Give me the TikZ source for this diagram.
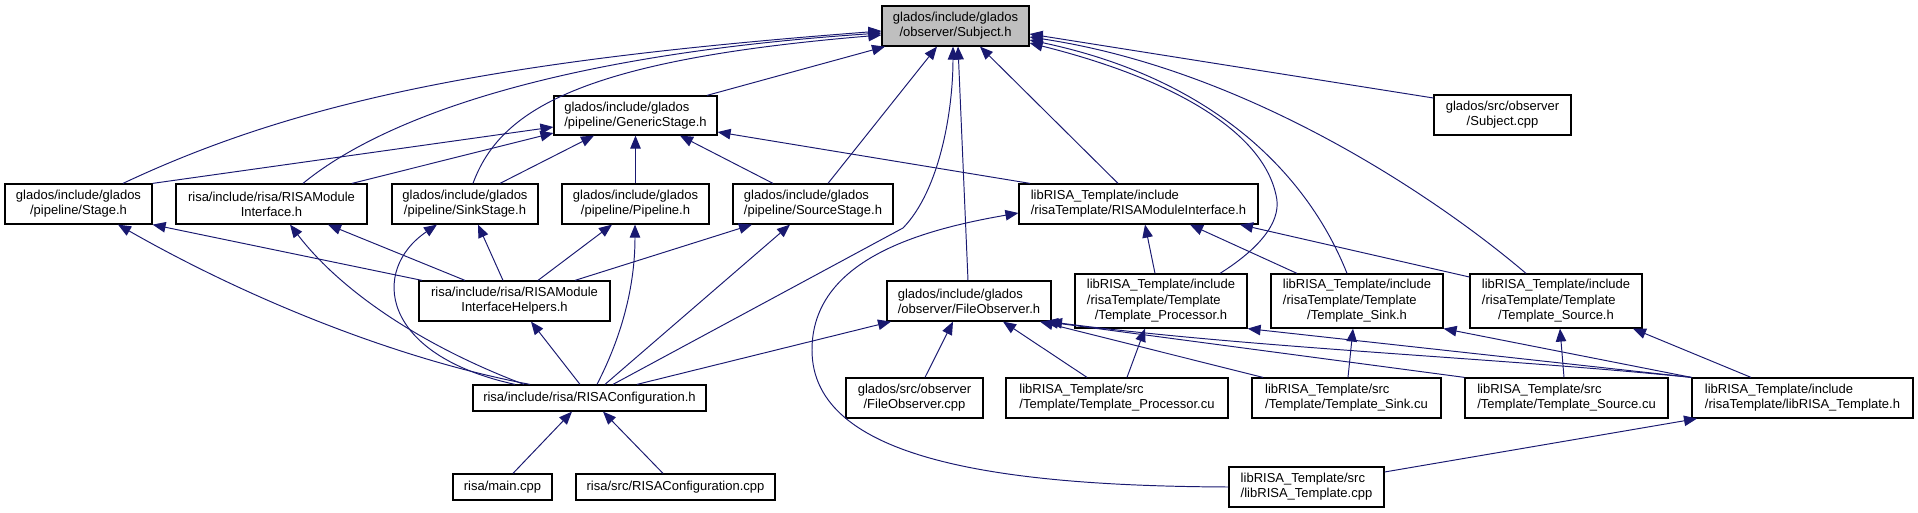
\documentclass[tikz,border=0pt]{standalone}
\usepackage{fontspec}
\setmainfont{Liberation Sans}
\usepackage{xcolor}
\usepackage{tikz}
\usetikzlibrary{arrows.meta}
\definecolor{edgeblue}{HTML}{191970}
\definecolor{rootgray}{HTML}{BFBFBF}
\newcommand{\tplhdr}[1]{\begin{tabular}{@{}l@{}}libRISA\_Template/include\\/risaTemplate/Template\\\multicolumn{1}{@{}c@{}}{/#1}\end{tabular}}

\begin{document}
\begin{tikzpicture}[x=0.02cm, y=-0.02cm,
      file/.style 2 args={draw, line width=0.7pt, inner sep=0pt,
                  minimum width=#1, minimum height=#2,
                  font=\fontsize{7.4}{8.6}\selectfont, align=center},
      lfile/.style 2 args={file={#1}{#2}, align=left},
      dep/.style={-{Triangle[length=2.6mm,width=2.1mm]}, line width=0.55pt, color=edgeblue}
  ]
    \useasboundingbox (0,0) rectangle (1918,513);
    \node[file={2.94cm}{0.8cm}, fill=rootgray] (subj) at (955.5,26) {glados/include/glados\\/observer/Subject.h};
    \node[file={2.74cm}{0.8cm}] (subjcpp) at (1502.5,115) {glados/src/observer\\/Subject.cpp};
    \node[lfile={3.26cm}{0.78cm}] (gen) at (635.5,115.5) {glados/include/glados\\/pipeline/GenericStage.h};
    \node[file={2.94cm}{0.8cm}] (stage) at (78.5,204) {glados/include/glados\\/pipeline/Stage.h};
    \node[file={3.82cm}{0.8cm}] (rmi) at (271.5,204) {risa/include/risa/RISAModule\\Interface.h};
    \node[file={2.92cm}{0.8cm}] (sink) at (465,204) {glados/include/glados\\/pipeline/SinkStage.h};
    \node[file={2.94cm}{0.8cm}] (pipe) at (635.5,204) {glados/include/glados\\/pipeline/Pipeline.h};
    \node[lfile={3.2cm}{0.8cm}] (source) at (813,204) {glados/include/glados\\/pipeline/SourceStage.h};
    \node[lfile={4.78cm}{0.8cm}] (lrmi) at (1138.5,204) {libRISA\_Template/include\\/risaTemplate/RISAModuleInterface.h};
    \node[file={3.82cm}{0.8cm}] (helpers) at (514.5,301) {risa/include/risa/RISAModule\\InterfaceHelpers.h};
    \node[lfile={3.28cm}{0.8cm}] (fobs) at (969,301) {glados/include/glados\\/observer/FileObserver.h};
    \node[file={3.44cm}{1.08cm}] (tproc) at (1161,301) {\tplhdr{Template\_Processor.h}};
    \node[file={3.44cm}{1.08cm}] (tsink) at (1357,301) {\tplhdr{Template\_Sink.h}};
    \node[file={3.44cm}{1.08cm}] (tsrc) at (1556,301) {\tplhdr{Template\_Source.h}};
    \node[file={4.66cm}{0.52cm}] (config) at (589.5,398) {risa/include/risa/RISAConfiguration.h};
    \node[file={2.74cm}{0.8cm}] (fobscpp) at (914.5,398) {glados/src/observer\\/FileObserver.cpp};
    \node[lfile={4.44cm}{0.8cm}] (tproccu) at (1117,398) {libRISA\_Template/src\\/Template/Template\_Processor.cu};
    \node[lfile={3.78cm}{0.8cm}] (tsinkcu) at (1346.5,398) {libRISA\_Template/src\\/Template/Template\_Sink.cu};
    \node[lfile={4.06cm}{0.8cm}] (tsrccu) at (1566.5,398) {libRISA\_Template/src\\/Template/Template\_Source.cu};
    \node[lfile={4.42cm}{0.8cm}] (lib) at (1802.5,398) {libRISA\_Template/include\\/risaTemplate/libRISA\_Template.h};
    \node[file={1.98cm}{0.52cm}] (main) at (502.5,487) {risa/main.cpp};
    \node[file={3.98cm}{0.52cm}] (configcpp) at (675.5,487) {risa/src/RISAConfiguration.cpp};
    \node[lfile={3.1cm}{0.8cm}] (libcpp) at (1306.5,487) {libRISA\_Template/src\\/libRISA\_Template.cpp};

    \draw[dep] (gen.north -| 707,0) -- (subj.south -| 885,0);
    \draw[dep] (stage.north -| 123,0) .. controls (300,100) and (500,60) .. (subj.west |- 0,31);
    \draw[dep] (rmi.north -| 303,0) .. controls (380,120) and (550,55) .. (subj.west |- 0,33);
    \draw[dep] (sink.north -| 473,0) .. controls (500,110) and (580,60) .. (subj.west |- 0,35);
    \draw[dep] (source.north -| 828,0) -- (subj.south -| 937,0);
    \draw[dep] (config.north -| 613,0) -- (903,228) .. controls (940,190) and (953,110) .. (subj.south -| 953,0);
    \draw[dep] (fobs.north -| 968,0) -- (subj.south -| 958,0);
    \draw[dep] (lrmi.north -| 1118,0) -- (subj.south -| 980,0);
    \draw[dep] (tproc.north -| 1220,0) .. controls (1265,245) and (1282,218) .. (1276,195)
                 .. controls (1262,130) and (1170,78) .. (subj.east |- 0,43);
    \draw[dep] (tsink.north -| 1347,0) .. controls (1310,180) and (1220,80) .. (subj.east |- 0,40);
    \draw[dep] (tsrc.north -| 1526,0) .. controls (1440,200) and (1250,70) .. (subj.east |- 0,37);
    \draw[dep] (subjcpp.west |- 0,98) -- (subj.east |- 0,34);

    \draw[dep] (stage.north east) -- (gen.west |- 0,127);
    \draw[dep] (rmi.north -| 352,0) -- (gen.west |- 0,133);
    \draw[dep] (sink.north -| 500,0) -- (gen.south -| 594,0);
    \draw[dep] (pipe) -- (gen);
    \draw[dep] (source.north -| 773,0) -- (gen.south -| 680,0);
    \draw[dep] (lrmi.north -| 1030,0) -- (gen.east |- 0,132);

    \draw[dep] (helpers.north -| 422,0) -- (stage.south east);
    \draw[dep] (config.north -| 530,0) .. controls (400,360) and (250,300) .. (stage.south -| 118,0);
    \draw[dep] (helpers.north -| 465,0) -- (rmi.south -| 328,0);
    \draw[dep] (config.north -| 524,0) .. controls (420,345) and (340,290) .. (rmi.south -| 290,0);
    \draw[dep] (helpers.north -| 503,0) -- (sink.south -| 478,0);
    \draw[dep] (config.north -| 515,0) .. controls (380,355) and (370,270) .. (sink.south -| 437,0);
    \draw[dep] (helpers.north -| 538,0) -- (pipe.south -| 612,0);
    \draw[dep] (config.north -| 597,0) .. controls (625,330) and (635,280) .. (pipe.south -| 635,0);
    \draw[dep] (helpers.north -| 575,0) -- (source.south -| 752,0);
    \draw[dep] (config.north -| 605,0) -- (source.south -| 790,0);
    \draw[dep] (config.north -| 580,0) -- (helpers.south -| 531,0);
    \draw[dep] (main.north -| 513,0) -- (config.south -| 572,0);
    \draw[dep] (configcpp.north -| 663,0) -- (config.south -| 603,0);

    \draw[dep] (config.north -| 637,0) -- (fobs.south -| 891,0);
    \draw[dep] (fobscpp.north -| 925,0) -- (fobs.south -| 953,0);
    \draw[dep] (tproccu.north -| 1087,0) -- (fobs.south -| 1003,0);
    \draw[dep] (tsinkcu.north -| 1263,0) -- (fobs.south -| 1040,0);
    \draw[dep] (tsrccu.north west) -- (fobs.south -| 1045,0);
    \draw[dep] (lib.north west) .. controls (1500,358) and (1250,348) .. (fobs.south -| 1049,0);

    \draw[dep] (tproc.north -| 1155,0) -- (lrmi.south -| 1145,0);
    \draw[dep] (tsink.north -| 1297,0) -- (lrmi.south -| 1190,0);
    \draw[dep] (tsrc.west |- 0,277) -- (lrmi.south -| 1240,0);
    \draw[dep] (libcpp.west) .. controls (1000,486) and (812,460) .. (812,350)
                 .. controls (812,260) and (920,230) .. (lrmi.west |- 0,213);

    \draw[dep] (tproccu.north -| 1127,0) -- (tproc.south -| 1145,0);
    \draw[dep] (lib.north west) -- (tproc.south east);
    \draw[dep] (tsinkcu.north -| 1348,0) -- (tsink.south -| 1353,0);
    \draw[dep] (lib.north west) -- (tsink.south east);
    \draw[dep] (tsrccu.north -| 1564,0) -- (tsrc.south -| 1560,0);
    \draw[dep] (lib.north -| 1751,0) -- (tsrc.south -| 1633,0);
    \draw[dep] (libcpp.east |- 0,472) -- (lib.south -| 1697,0);
  \end{tikzpicture}
\end{document}
